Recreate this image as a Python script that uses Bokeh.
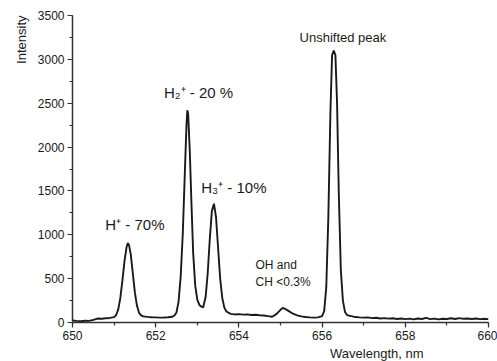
from bokeh.plotting import figure
from bokeh.models import Range1d, SingleIntervalTicker, Title
from bokeh.core.properties import value
from bokeh.embed import file_html
from bokeh.resources import INLINE

wavelength = [
    650.0, 650.1, 650.2, 650.3, 650.4, 650.5, 650.6, 650.7, 650.8, 650.9,
    651.0, 651.05, 651.1, 651.15, 651.2, 651.25, 651.3, 651.33, 651.36, 651.4,
    651.45, 651.5, 651.55, 651.6, 651.65, 651.7, 651.8, 651.9, 652.0, 652.1,
    652.2, 652.3, 652.4, 652.45, 652.5, 652.55, 652.6, 652.65, 652.7, 652.74,
    652.76, 652.78, 652.82, 652.86, 652.9, 652.95, 653.0, 653.05, 653.1, 653.14,
    653.2, 653.25, 653.3, 653.35, 653.4, 653.45, 653.5, 653.55, 653.6, 653.65,
    653.7, 653.8, 653.9, 654.0, 654.1, 654.2, 654.3, 654.4, 654.5, 654.6,
    654.7, 654.8, 654.9, 655.0, 655.05, 655.1, 655.2, 655.3, 655.4, 655.5,
    655.6, 655.7, 655.8, 655.9, 656.0, 656.05, 656.1, 656.15, 656.2, 656.24,
    656.28, 656.32, 656.36, 656.4, 656.45, 656.5, 656.55, 656.6, 656.7, 656.8,
    656.9, 657.0, 657.1, 657.2, 657.3, 657.4, 657.5, 657.6, 657.7, 657.8,
    657.9, 658.0, 658.1, 658.2, 658.3, 658.4, 658.5, 658.6, 658.7, 658.8,
    658.9, 659.0, 659.1, 659.2, 659.3, 659.4, 659.5, 659.6, 659.7, 659.8,
    659.9, 660.0,
]
intensity = [
    22, 18, 15, 20, 18, 30, 45, 42, 48, 52,
    62, 85, 150, 280, 480, 700, 860, 905, 880, 780,
    560, 340, 190, 110, 82, 70, 64, 60, 58, 55,
    57, 60, 66, 80, 115, 240, 520, 1000, 1700, 2250,
    2420, 2380, 1950, 1350, 800, 420, 260, 200, 180, 172,
    290, 560, 950, 1270, 1355, 1200, 850, 500, 280, 170,
    125, 98, 92, 95, 90, 93, 86, 88, 82, 80,
    72, 65, 95, 145, 165, 158, 130, 100, 82, 70,
    62, 58, 56, 58, 72, 130, 400, 1200, 2400, 3050,
    3100, 3050, 2500, 1500, 600, 250, 120, 85, 72, 62,
    58, 55, 58, 50, 54, 46, 50, 44, 48, 40,
    45, 38, 44, 36, 46, 40, 52, 38, 44, 36,
    42, 40, 48, 40, 50, 42, 46, 40, 45, 38,
    42, 38,
]

peak_label_x = [651.50, 653.03, 653.88]
peak_label_y = [1117, 2622, 1539]
peak_label_text = ["H\u207a - 70%", "H\u2082\u207a - 20 %", "H\u2083\u207a - 10%"]
oh_label_x = [654.40]
oh_label_y = [560]
oh_label_text = ["OH and\nCH <0.3%"]
unshifted_x = [656.50]
unshifted_y = [3249]
unshifted_text = ["Unshifted peak"]

FONT = "Liberation Sans"
INK = "#1a1a1a"

p = figure(width=497, height=361, output_backend="svg", toolbar_location=None,
           x_range=Range1d(650, 660), y_range=Range1d(0, 3500),
           min_border_left=72, min_border_right=9, min_border_top=15, min_border_bottom=39)
p.outline_line_color = None
p.grid.grid_line_color = None
p.background_fill_color = "white"
p.border_fill_color = "white"

p.line(wavelength, intensity, line_color=INK, line_width=1.9)

p.text(x=peak_label_x, y=peak_label_y, text=peak_label_text, text_align="center",
       text_baseline="middle", text_font=value(FONT), text_font_size="15px", text_color=INK)
p.text(x=oh_label_x, y=oh_label_y, text=oh_label_text, text_align="left",
       text_baseline="middle", text_font=value(FONT), text_font_size="12px", text_color=INK,
       text_line_height=1.25)
p.text(x=unshifted_x, y=unshifted_y, text=unshifted_text, text_align="center",
       text_baseline="middle", text_font=value(FONT), text_font_size="13px", text_color=INK)

for ax in (p.xaxis[0], p.yaxis[0]):
    ax.axis_line_color = "#333333"
    ax.axis_line_width = 1.5
    ax.major_tick_line_color = "#333333"
    ax.minor_tick_line_color = "#333333"
    ax.major_tick_line_width = 1.2
    ax.minor_tick_line_width = 1.2
    ax.major_tick_out = 5
    ax.major_tick_in = 0
    ax.minor_tick_out = 3
    ax.minor_tick_in = 0
    ax.major_label_text_font = FONT
    ax.major_label_text_font_size = "12px"
    ax.major_label_text_color = INK
    ax.major_label_standoff = 3

p.xaxis[0].ticker = SingleIntervalTicker(interval=2, num_minor_ticks=2)
p.yaxis[0].ticker = SingleIntervalTicker(interval=500, num_minor_ticks=2)

p.add_layout(Title(text="Intensity", align="right", text_font=FONT, text_font_size="13px",
                   text_font_style="normal", text_color=INK, standoff=12), "left")
p.add_layout(Title(text="Wavelength, nm", align="right", offset=65, text_font=FONT,
                   text_font_size="13px", text_font_style="normal", text_color=INK, standoff=2), "below")

open("out.html", "w").write(file_html(p, INLINE))
